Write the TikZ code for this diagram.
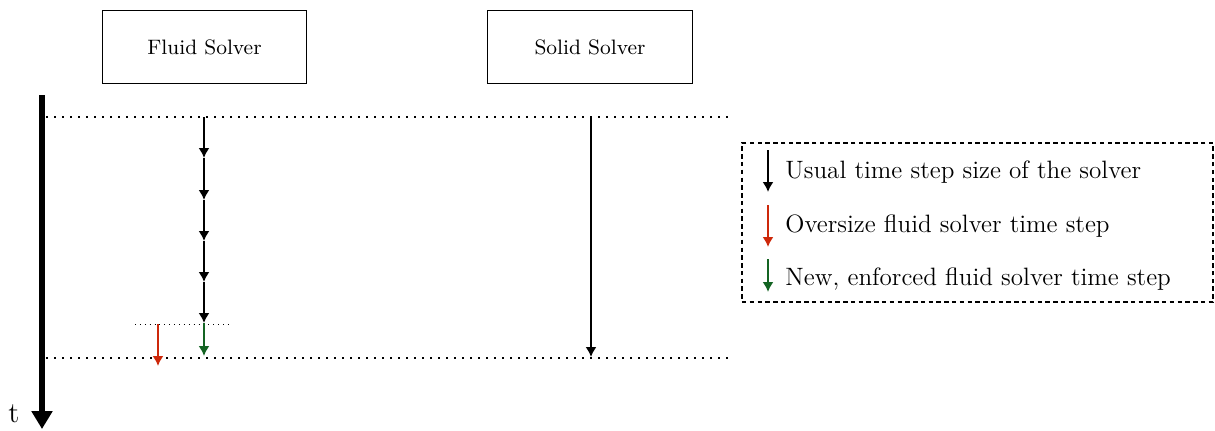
\documentclass[tikz,border=0pt]{standalone}
\usetikzlibrary{arrows.meta}
\definecolor{overred}{RGB}{205,40,10}
\definecolor{newgreen}{RGB}{20,100,35}
\begin{document}
\begin{tikzpicture}[x=0.45pt,y=-0.45pt,
  solverbox/.style={draw,line width=0.6pt,minimum width=92pt,minimum height=33pt,inner sep=0pt,font=\fontsize{9.4}{11}\selectfont},
  sync/.style={line width=0.8pt,dash pattern=on 0.8pt off 2.8pt},
  substep/.style={line width=0.3pt,dash pattern=on 0.3pt off 1.9pt},
  tstep/.style={line width=1pt,-{Latex[length=4.5pt,width=5pt]}},
  legtext/.style={anchor=west,inner sep=0pt,font=\fontsize{11.3}{13}\selectfont}]
\useasboundingbox (0,0) rectangle (1215,430);

% solver boxes
\node[solverbox] (fluid) at (204.5,47) {Fluid Solver};
\node[solverbox] (solid) at (590,47) {Solid Solver};

% time axis
\coordinate (ttop) at (42,95);
\coordinate (tbot) at (42,429);
\draw[line width=2.4pt,-{Triangle[length=8pt,width=9pt]}] (ttop) -- (tbot);
\node[font=\fontsize{13}{15}\selectfont,inner sep=0pt] (tlabel) at (14,414) {t};

% coupling time levels
\coordinate (syncAL) at (46,117);
\coordinate (syncAR) at (728,117);
\coordinate (syncBL) at (46,358);
\coordinate (syncBR) at (728,358);
\draw[sync] (syncAL) -- (syncAR);
\draw[sync] (syncBL) -- (syncBR);

% fluid solver sub-steps
\foreach \i/\y in {0/117,1/158,2/200,3/241,4/282,5/323}
  \coordinate (f\i) at (204,\y);
\foreach \i/\j in {0/1,1/2,2/3,3/4,4/5}
  \draw[tstep] (f\i) -- (f\j);

% last sub-step: oversize vs. enforced
\coordinate (subL) at (135,324);
\coordinate (subR) at (230,324);
\draw[substep] (subL) -- (subR);
\coordinate (redtop) at (158,324);
\coordinate (redbot) at (158,366);
\coordinate (greenbot) at (204,356);
\draw[tstep,overred] (redtop) -- (redbot);
\draw[tstep,newgreen] (f5) -- (greenbot);

% solid solver step
\coordinate (s0) at (591,117);
\coordinate (s1) at (591,357);
\draw[tstep] (s0) -- (s1);

% legend
\node[draw,dash pattern=on 2pt off 1.5pt,line width=0.6pt,minimum width=212pt,minimum height=71.5pt,inner sep=0pt] (legend) at (977.5,222.5) {};
\coordinate (la0) at (768,150); \coordinate (la1) at (768,192);
\coordinate (lb0) at (768,205); \coordinate (lb1) at (768,247);
\coordinate (lc0) at (768,259); \coordinate (lc1) at (768,292);
\draw[tstep] (la0) -- (la1);
\draw[tstep,overred] (lb0) -- (lb1);
\draw[tstep,newgreen] (lc0) -- (lc1);
\node[legtext] (leg1) at (785,172) {Usual time step size of the solver};
\node[legtext] (leg2) at (785,226) {Oversize fluid solver time step};
\node[legtext] (leg3) at (785,279) {New, enforced fluid solver time step};
\end{tikzpicture}
\end{document}
